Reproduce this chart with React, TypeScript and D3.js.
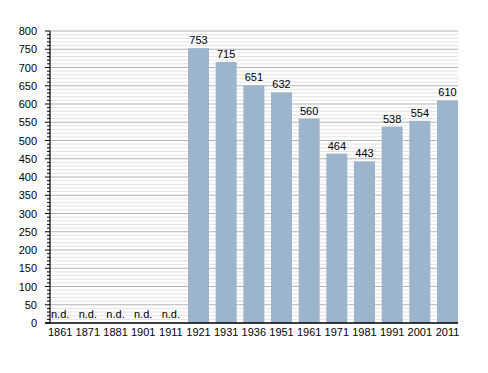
import React from "react";
import * as d3 from "d3";

const years = ["1861","1871","1881","1901","1911","1921","1931","1936","1951","1961","1971","1981","1991","2001","2011"];
const values: (number | null)[] = [null,null,null,null,null,753,715,651,632,560,464,443,538,554,610];
const majorTicks = d3.range(0, 801, 50);
const minorTicks = d3.range(0, 801, 10);

export default function App() {
  const W = 488, H = 373;
  const left = 50, right = 458, top = 31, bottom = 323;
  const y = d3.scaleLinear().domain([0, 800]).range([bottom, top]);
  const x = d3.scalePoint<string>().domain(years).range([60.2, 447.5]);
  const bw = 21;
  const font = "Liberation Sans, Arial, sans-serif";
  return (
    <svg width={W} height={H} style={{ position: "absolute", left: 0, top: 0, background: "#fff" }} fontFamily={font}>
      {minorTicks.filter(t => t % 50 !== 0).map(t => (
        <line key={"mg" + t} x1={left} x2={right} y1={y(t)} y2={y(t)} stroke="#e3e3e3" strokeWidth={1} />
      ))}
      {majorTicks.filter(t => t > 0).map(t => (
        <line key={"Mg" + t} x1={left} x2={right} y1={y(t)} y2={y(t)} stroke="#b3b3b3" strokeWidth={1} />
      ))}
      {years.map((yr, i) => {
        const v = values[i];
        const cx = x(yr)!;
        if (v == null) {
          return (
            <text key={yr} x={cx} y={bottom - 5} textAnchor="middle" fontSize={11} fill="#000">n.d.</text>
          );
        }
        return (
          <g key={yr}>
            <rect x={cx - bw / 2} y={y(v)} width={bw} height={bottom - y(v)} fill="#9db4cd" />
            <text x={cx} y={y(v) - 4} textAnchor="middle" fontSize={11} fill="#000">{v}</text>
          </g>
        );
      })}
      {minorTicks.map(t => (
        <line key={"t" + t} x1={t % 50 === 0 ? left - 5 : left - 3} x2={left} y1={y(t)} y2={y(t)} stroke="#000" strokeWidth={1} />
      ))}
      <line x1={left} x2={left} y1={top} y2={bottom} stroke="#000" strokeWidth={1.2} />
      <line x1={left - 5} x2={right} y1={bottom} y2={bottom} stroke="#000" strokeWidth={1.5} />
      {majorTicks.map(t => (
        <text key={"l" + t} x={37} y={y(t) + 4} textAnchor="end" fontSize={11} fill="#000">{t}</text>
      ))}
      {years.map(yr => (
        <text key={"x" + yr} x={x(yr)!} y={336} textAnchor="middle" fontSize={11} fill="#000">{yr}</text>
      ))}
    </svg>
  );
}
